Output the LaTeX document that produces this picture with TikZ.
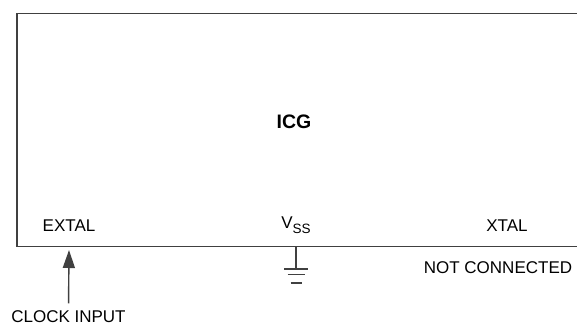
\documentclass[tikz,border=0pt]{standalone}
\usepackage{fontspec}
\setmainfont{Liberation Sans}
\usetikzlibrary{arrows.meta,calc}

\begin{document}
\begin{tikzpicture}
        [x=1pt, y=-1pt,
        pin/.style={font=\fontsize{17}{20}\selectfont, inner sep=0pt, anchor=base},
        chipname/.style={font=\fontsize{19.5}{22}\selectfont\bfseries, inner sep=0pt, anchor=base},
        wire/.style={line width=1.4pt, black!75},
        gnd/.style={line width=1.2pt, black!75}]

        \useasboundingbox (0,0) rectangle (577,325);

        % open box, no right side
        \coordinate (tr) at (577,13.5);
        \coordinate (tl) at (17,13.5);
        \coordinate (bl) at (17,246.5);
        \coordinate (br) at (577,246.5);
        \draw[wire] (tr) -- (tl) -- (bl) -- (br);

        % labels inside the box
        \node[chipname] (icg) at (294,128) {ICG};
        \node[pin] (extal) at (69,231) {EXTAL};
        \node[pin] (vss) at (296,228.5) {V\raisebox{-4.5pt}{\fontsize{13.5}{14}\selectfont SS}};
        \node[pin] (xtal) at (507,231) {XTAL};

        % labels outside
        \node[pin] (nc) at (498,273) {NOT CONNECTED};
        \node[pin] (clk) at (68.5,322.5) {CLOCK INPUT};

        % clock input arrow
        \coordinate (clkin) at (69,250);
        \draw[wire, -{Triangle[length=18pt,width=12pt]}, shorten <=7pt] (clk.north) -- (clkin);

        % ground symbol
        \coordinate (gnd) at (296,246.5);
        \draw[gnd] (gnd) -- ++(0,22.5);
        \draw[gnd] ($(gnd)+(-12,22.5)$) -- ++(24,0);
        \draw[gnd] ($(gnd)+(-8.5,28)$) -- ++(17,0);
        \draw[gnd] ($(gnd)+(-5.5,36.5)$) -- ++(11,0);

        \end{tikzpicture}
\end{document}
